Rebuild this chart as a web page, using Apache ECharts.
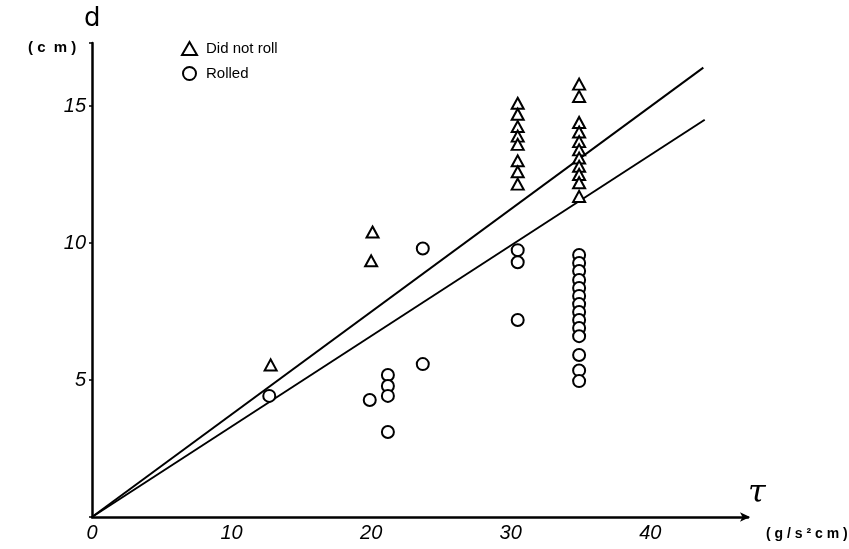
<!DOCTYPE html>
<html><head><meta charset="utf-8">
<script src="https://cdn.jsdelivr.net/npm/echarts@6/dist/echarts.min.js"></script>
<style>html,body{margin:0;padding:0;background:#fff}#c{width:849px;height:549px}</style>
</head><body><div id="c"></div>
<script>
// Data: [tau (g/s^2 cm), d (cm)]
var didNotRoll = [
  [12.8, 5.55],
  [20.1, 10.4], [20.0, 9.35],
  [30.5, 15.1], [30.5, 14.7], [30.5, 14.25], [30.5, 13.9], [30.5, 13.6], [30.5, 13.0], [30.5, 12.6], [30.5, 12.15],
  [34.9, 15.8], [34.9, 15.35], [34.9, 14.4], [34.9, 14.05], [34.9, 13.7], [34.9, 13.4], [34.9, 13.1], [34.9, 12.8], [34.9, 12.5], [34.9, 12.2], [34.9, 11.7]
];
var rolled = [
  [12.7, 4.42],
  [19.9, 4.27], [21.2, 5.18], [21.2, 4.78], [21.2, 4.42], [21.2, 3.1],
  [23.7, 9.8], [23.7, 5.58],
  [30.5, 9.74], [30.5, 9.3], [30.5, 7.19],
  [34.9, 9.56], [34.9, 9.27], [34.9, 8.98], [34.9, 8.65], [34.9, 8.36], [34.9, 8.07], [34.9, 7.77], [34.9, 7.48], [34.9, 7.19], [34.9, 6.9], [34.9, 6.6],
  [34.9, 5.91], [34.9, 5.35], [34.9, 4.96]
];
var upperLine = [[0, 0], [43.8, 16.4]];
var lowerLine = [[0, 0], [43.9, 14.5]];
var xTicks = [0, 10, 20, 30, 40];
var yTicks = [5, 10, 15];

var chart = echarts.init(document.getElementById('c'));
var tickFont = {fontFamily: 'Liberation Sans', fontStyle: 'italic', fontSize: 20, color: '#000'};
chart.setOption({
  backgroundColor: '#fff',
  animation: false,
  grid: {left: 92, right: 101, top: 43, bottom: 32, containLabel: false},
  legend: {
    orient: 'vertical', left: 176, top: 36, itemGap: 10, itemWidth: 15, itemHeight: 13,
    textStyle: {fontFamily: 'Liberation Sans', fontSize: 15, color: '#000', padding: [0, 0, 0, 4]},
    data: [{name: 'Did not roll', icon: 'triangle'}, {name: 'Rolled', icon: 'circle'}]
  },
  xAxis: {
    type: 'value', min: 0, max: 47, interval: 10,
    splitLine: {show: false},
    axisLine: {lineStyle: {color: '#000', width: 2.5}, symbol: ['none', 'arrow'], symbolSize: [7, 10], symbolOffset: [0, 2]},
    axisTick: {show: false},
    axisLabel: Object.assign({margin: 6, formatter: function (v) { return xTicks.indexOf(v) >= 0 ? String(v) : ''; }}, tickFont)
  },
  yAxis: {
    type: 'value', min: 0, max: 17.3, interval: 5,
    splitLine: {show: false},
    axisLine: {show: true, lineStyle: {color: '#000', width: 2.5}},
    axisTick: {show: true, length: 3, lineStyle: {color: '#000', width: 1.5}},
    axisLabel: Object.assign({margin: 6, formatter: function (v) { return yTicks.indexOf(v) >= 0 ? String(v) : ''; }}, tickFont)
  },
  series: [
    {type: 'line', data: upperLine, symbol: 'none', lineStyle: {color: '#000', width: 2}, z: 1, silent: true},
    {type: 'line', data: lowerLine, symbol: 'none', lineStyle: {color: '#000', width: 2}, z: 1, silent: true},
    {name: 'Did not roll', type: 'scatter', data: didNotRoll, symbol: 'triangle', symbolSize: [12, 11],
     itemStyle: {color: '#fff', borderColor: '#000', borderWidth: 2, opacity: 1}, z: 3},
    {name: 'Rolled', type: 'scatter', data: rolled, symbol: 'circle', symbolSize: 12,
     itemStyle: {color: '#fff', borderColor: '#000', borderWidth: 2, opacity: 1}, z: 3}
  ],
  graphic: [
    {type: 'text', left: 84, top: 6, style: {text: 'd', fontFamily: 'DejaVu Sans', fontSize: 26, fill: '#000'}},
    {type: 'text', left: 28, top: 40, style: {text: '( c  m )', fontFamily: 'Liberation Sans', fontWeight: 'bold', fontSize: 15, fill: '#000'}},
    {type: 'text', left: 748, top: 478, style: {text: 'τ', fontFamily: 'DejaVu Serif', fontStyle: 'italic', fontSize: 32, fill: '#000'}},
    {type: 'text', left: 766, top: 527, style: {text: '( g / s ² c m )', fontFamily: 'Liberation Sans', fontWeight: 'bold', fontSize: 14, fill: '#000'}}
  ]
});
</script></body></html>
